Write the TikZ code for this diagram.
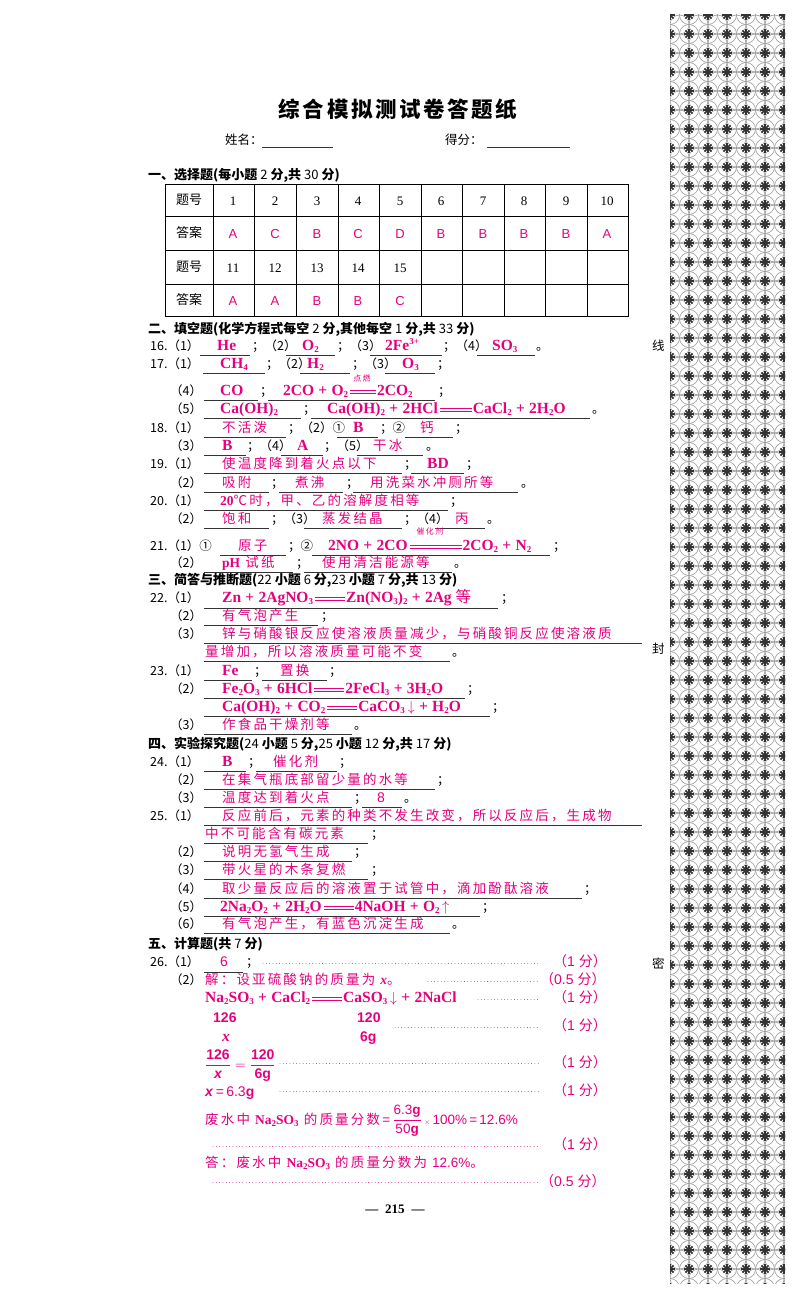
\documentclass[tikz,border=0pt]{standalone}
\usepackage{fontspec}
\usepackage{amsmath}
\setmainfont{Liberation Serif}
\setsansfont{Liberation Sans}
\newfontfamily\zh{Noto Sans CJK SC}
\newfontfamily\hw[LetterSpace=16]{Noto Sans CJK SC}
\newfontfamily\tz[LetterSpace=12]{Noto Sans CJK SC}
\definecolor{mag}{RGB}{228,0,127}
\newcounter{nd}
\newcommand\T[4][t]{\stepcounter{nd}\node[#1] (n\arabic{nd}) at (#2,#3) {#4};}
\newcommand\U[3]{\draw[ul] (#1,#3)--(#2,#3);}
\newcommand\dn[1]{\raisebox{-0.35ex}{\fontsize{9}{8}\selectfont #1}}
\newcommand\upx[1]{\raisebox{0.8ex}{\fontsize{9}{8}\selectfont #1}}
\newcommand\pl{\;+\;}
\newcommand\eqq[1][30pt]{\hspace{2pt}\rlap{\raisebox{0.55ex}{\rule{#1}{0.7pt}}}\raisebox{0.25ex}{\rule{#1}{0.7pt}}\hspace{1pt}}
\newcommand\fen[1]{{\zh （}\textsf{#1} {\zh 分）}}
\tikzset{
 t/.style={anchor=base west,inner sep=0,font=\zh\fontsize{12.5}{14}\selectfont},
 hd/.style={t,font=\zh\bfseries\fontsize{13}{15}\selectfont},
 a/.style={anchor=base west,inner sep=0,text=mag,font=\bfseries\fontsize{15.5}{17}\selectfont},
 h/.style={anchor=base west,inner sep=0,text=mag,font=\hw\fontsize{13.5}{15}\selectfont},
 s/.style={anchor=base west,inner sep=0,text=mag,font=\sffamily\fontsize{14}{16}\selectfont},
 small/.style={anchor=base,inner sep=0,text=mag,font=\hw\fontsize{8}{9}\selectfont},
 ul/.style={line width=0.6pt,black!80},
 dots/.style={mag,line width=0.7pt,dash pattern=on 0.01pt off 3.3pt,line cap=round},
 cell/.style={inner sep=0,font=\fontsize{13}{15}\selectfont},
 acell/.style={inner sep=0,text=mag,font=\sffamily\fontsize{13}{15}\selectfont},
}
\begin{document}
\begin{tikzpicture}[x=1pt,y=-1pt]
\useasboundingbox (0,0) rectangle (800,1305);
\fill[white] (0,0) rectangle (800,1305);
% side pattern
\begin{scope}
\clip (670,15) rectangle (785,1283);
\foreach \i in {0,...,6}{\foreach \j in {0,...,67}{
 \begin{scope}[shift={(670+\i*19,15+\j*19)}]
  \draw[black!40,line width=0.6pt] (0,0) circle (9.5);
  \draw[black!40,line width=0.6pt] (9.5,9.5) circle (9.5);
  \foreach \a in {0,45,90,135}{\draw[black!80,line width=1.6pt] (\a:5)--(\a+180:5);}
 \end{scope}}}
\end{scope}
\T[t]{652}{350}{线}
\T[t]{652}{653}{封}
\T[t]{652}{968}{密}
% title
\T[{anchor=base,inner sep=0,font=\tz\bfseries\fontsize{21.5}{24}\selectfont}]{398}{118}{综合模拟测试卷答题纸}
\T[t]{225}{145}{姓名：}\U{262}{333}{147}
\T[t]{445}{145}{得分：}\U{487}{570}{147}
\T[hd]{148}{180}{一、选择题(每小题 {\mdseries 2} 分,共 {\mdseries 30} 分)}
% table
\draw[line width=1pt] (165,185) rectangle (628,316);
\foreach \yy in {216,250,284}{\draw[line width=0.6pt] (165,\yy)--(628,\yy);}
\foreach \xx in {213,254,296,338,379,421,462,504,545,587}{\draw[line width=0.6pt] (\xx,185)--(\xx,316);}
\T[cell,font=\zh\fontsize{13}{15}\selectfont]{189}{200}{题号}
\T[cell,font=\zh\fontsize{13}{15}\selectfont]{189}{233}{答案}
\T[cell,font=\zh\fontsize{13}{15}\selectfont]{189}{267}{题号}
\T[cell,font=\zh\fontsize{13}{15}\selectfont]{189}{300}{答案}
\foreach \k/\xc/\an in {1/233/A,2/275/C,3/317/B,4/358/C,5/400/D,6/441/B,7/483/B,8/524/B,9/566/B,10/607/A}{
 \node[cell] (q\k) at (\xc,201) {\k}; \node[acell] (r\k) at (\xc,234) {\an};}
\foreach \k/\xc/\an in {11/233/A,12/275/A,13/317/B,14/358/B,15/400/C}{
 \node[cell] (q\k) at (\xc,268) {\k}; \node[acell] (r\k) at (\xc,301) {\an};}
% section 2
\T[hd]{148}{333}{二、填空题(化学方程式每空 {\mdseries 2} 分,其他每空 {\mdseries 1} 分,共 {\mdseries 33} 分)}
\T[t]{150}{350}{16.（1）}\T[a]{217}{350}{He}\U{200}{250}{355}
\T[t]{252}{350}{；（2）}\T[a]{302}{350}{O\dn{2}}\U{286}{335}{355}
\T[t]{337}{350}{；（3）}\T[a]{385}{350}{2Fe\upx{3+}}\U{370}{442}{355}
\T[t]{443}{350}{；（4）}\T[a]{492}{350}{SO\dn{3}}\U{477}{535}{355}\T[t]{536}{350}{。}
\T[t]{150}{368}{17.（1）}\T[a]{220}{368}{CH\dn{4}}\U{203}{265}{373}
\T[t]{266}{368}{；（2）}\T[a]{307}{368}{H\dn{2}}\U{300}{350}{373}
\T[t]{352}{368}{；（3）}\T[a]{402}{368}{O\dn{3}}\U{385}{435}{373}\T[t]{437}{368}{；}
\T[t]{170}{395}{（4）}\T[a]{220}{395}{CO}\U{204}{258}{400}\T[t]{260}{395}{；}
\T[a]{283}{395}{2CO\pl O\dn{2}\eqq[26pt]2CO\dn{2}}\T[small]{362}{381}{点燃}\U{268}{435}{400}\T[t]{438}{395}{；}
\T[t]{170}{413}{（5）}\T[a]{220}{413}{Ca(OH)\dn{2}}\U{204}{301}{418}\T[t]{303}{413}{；}
\T[a]{327}{413}{Ca(OH)\dn{2}\pl 2HCl\eqq[32pt]CaCl\dn{2}\pl 2H\dn{2}O}\U{311}{590}{418}\T[t]{592}{413}{。}
\T[t]{150}{432}{18.（1）}\T[h]{222}{432}{不活泼}\U{204}{286}{437}
\T[t]{288}{432}{；（2）①}\T[a]{353}{432}{B}\U{337}{378}{437}
\T[t]{380}{432}{；②}\T[h]{420}{432}{钙}\U{405}{453}{437}\T[t]{455}{432}{；}
\T[t]{170}{450}{（3）}\T[a]{222}{450}{B}\U{204}{246}{455}
\T[t]{247}{450}{；（4）}\T[a]{297}{450}{A}\U{281}{323}{455}
\T[t]{324}{450}{；（5）}\T[h]{373}{450}{干冰}\U{357}{423}{455}\T[t]{426}{450}{。}
\T[t]{150}{468}{19.（1）}\T[h]{222}{468}{使温度降到着火点以下}\U{204}{402}{473}
\T[t]{404}{468}{；}\T[a]{427}{468}{BD}\U{411}{464}{473}\T[t]{466}{468}{；}
\T[t]{170}{487}{（2）}\T[h]{222}{487}{吸附}\U{204}{269}{492}\T[t]{271}{487}{；}
\T[h]{295}{487}{煮沸}\U{279}{343}{492}\T[t]{346}{487}{；}
\T[h]{370}{487}{用洗菜水冲厕所等}\U{353}{518}{492}\T[t]{521}{487}{。}
\T[t]{150}{505}{20.（1）}\T[h]{220}{505}{{\bfseries\rmfamily 20}℃时，甲、乙的溶解度相等}\U{204}{448}{510}\T[t]{450}{505}{；}
\T[t]{170}{523}{（2）}\T[h]{222}{523}{饱和}\U{204}{269}{528}
\T[t]{271}{523}{；（3）}\T[h]{322}{523}{蒸发结晶}\U{304}{402}{528}
\T[t]{404}{523}{；（4）}\T[h]{455}{523}{丙}\U{435}{485}{528}\T[t]{487}{523}{。}
\T[t]{150}{550}{21.（1）①}\T[h]{238}{550}{原子}\U{220}{286}{555}\T[t]{288}{550}{；②}
\T[a]{328}{550}{2NO\pl 2CO\eqq[52pt]2CO\dn{2}\pl N\dn{2}}\T[small]{430}{534}{催化剂}\U{312}{550}{555}\T[t]{553}{550}{；}
\T[t]{170}{567}{（2）}\T[h]{222}{567}{{\bfseries\rmfamily pH} 试纸}\U{204}{293}{572}\T[t]{296}{567}{；}
\T[h]{322}{567}{使用清洁能源等}\U{304}{452}{572}\T[t]{454}{567}{。}
% section 3
\T[hd]{148}{584}{三、简答与推断题({\mdseries 22} 小题 {\mdseries 6} 分,{\mdseries 23} 小题 {\mdseries 7} 分,共 {\mdseries 13} 分)}
\T[t]{150}{602}{22.（1）}\T[a]{222}{602}{Zn\pl 2AgNO\dn{3}\eqq[30pt]Zn(NO\dn{3})\dn{2}\pl 2Ag {\hw\mdseries 等}}\U{204}{498}{608}\T[t]{501}{602}{；}
\T[t]{170}{620}{（2）}\T[h]{222}{620}{有气泡产生}\U{204}{318}{625}\T[t]{321}{620}{；}
\T[t]{170}{638}{（3）}\T[h]{222}{638}{锌与硝酸银反应使溶液质量减少，与硝酸铜反应使溶液质}\U{204}{642}{643}
\T[h]{205}{656}{量增加，所以溶液质量可能不变}\U{204}{450}{661}\T[t]{452}{656}{。}
\T[t]{150}{675}{23.（1）}\T[a]{222}{675}{Fe}\U{204}{252}{680}\T[t]{254}{675}{；}
\T[h]{280}{675}{置换}\U{262}{327}{680}\T[t]{329}{675}{；}
\T[t]{170}{693}{（2）}\T[a]{222}{693}{Fe\dn{2}O\dn{3}\pl 6HCl\eqq[30pt]2FeCl\dn{3}\pl 3H\dn{2}O}\U{204}{465}{698}\T[t]{467}{693}{；}
\T[a]{222}{711}{Ca(OH)\dn{2}\pl CO\dn{2}\eqq[30pt]CaCO\dn{3}\,$\downarrow$\pl H\dn{2}O}\U{204}{490}{716}\T[t]{492}{711}{；}
\T[t]{170}{729}{（3）}\T[h]{222}{729}{作食品干燥剂等}\U{204}{352}{734}\T[t]{354}{729}{。}
% section 4
\T[hd]{148}{748}{四、实验探究题({\mdseries 24} 小题 {\mdseries 5} 分,{\mdseries 25} 小题 {\mdseries 12} 分,共 {\mdseries 17} 分)}
\T[t]{150}{766}{24.（1）}\T[a]{222}{766}{B}\U{204}{246}{771}\T[t]{248}{766}{；}
\T[h]{273}{766}{催化剂}\U{256}{337}{771}\T[t]{339}{766}{；}
\T[t]{170}{784}{（2）}\T[h]{222}{784}{在集气瓶底部留少量的水等}\U{204}{435}{789}\T[t]{437}{784}{；}
\T[t]{170}{802}{（3）}\T[h]{222}{802}{温度达到着火点}\U{204}{352}{807}\T[t]{354}{802}{；}
\T[s]{377}{802}{8}\U{362}{402}{807}\T[t]{404}{802}{。}
\T[t]{150}{820}{25.（1）}\T[h]{222}{820}{反应前后，元素的种类不发生改变，所以反应后，生成物}\U{204}{642}{825}
\T[h]{205}{838}{中不可能含有碳元素}\U{204}{368}{843}\T[t]{371}{838}{；}
\T[t]{170}{856}{（2）}\T[h]{222}{856}{说明无氢气生成}\U{204}{352}{861}\T[t]{354}{856}{；}
\T[t]{170}{874}{（3）}\T[h]{222}{874}{带火星的木条复燃}\U{204}{368}{879}\T[t]{371}{874}{；}
\T[t]{170}{893}{（4）}\T[h]{222}{893}{取少量反应后的溶液置于试管中，滴加酚酞溶液}\U{204}{582}{898}\T[t]{584}{893}{；}
\T[t]{170}{911}{（5）}\T[a]{220}{911}{2Na\dn{2}O\dn{2}\pl 2H\dn{2}O\eqq[30pt]4NaOH\pl O\dn{2}\,$\uparrow$}\U{204}{480}{916}\T[t]{482}{911}{；}
\T[t]{170}{928}{（6）}\T[h]{222}{928}{有气泡产生，有蓝色沉淀生成}\U{204}{450}{933}\T[t]{452}{928}{。}
% section 5
\T[hd]{148}{948}{五、计算题(共 {\mdseries 7} 分)}
\T[t]{150}{966}{26.（1）}\T[s]{220}{966}{6}\U{204}{243}{972}\T[t]{246}{966}{；}
\draw[dots] (263,963)--(540,963);\T[s]{553}{966}{\fen{1}}
\T[t]{170}{984}{（2）}\T[h]{205}{984}{解：设亚硫酸钠的质量为 {\rmfamily\itshape\bfseries x}。}
\draw[dots] (428,981)--(540,981);\T[s]{540}{984}{\fen{0.5}}
\T[a]{205}{1002}{Na\dn{2}SO\dn{3}\pl CaCl\dn{2}\eqq[30pt]CaSO\dn{3}\,$\downarrow$\pl 2NaCl}
\draw[dots] (478,999)--(540,999);\T[s]{553}{1002}{\fen{1}}
\T[s]{213}{1022}{\bfseries 126}\T[s]{357}{1022}{\bfseries 120}
\T[a]{222}{1041}{\itshape x}\T[s]{360}{1041}{\bfseries 6g}
\draw[dots] (395,1027)--(540,1027);\T[s]{553}{1030}{\fen{1}}
\T[s]{205}{1069}{$\dfrac{\textsf{\bfseries 126}}{\textit{\bfseries x}}=\dfrac{\textsf{\bfseries 120}}{\textsf{\bfseries 6g}}$}
\draw[dots] (280,1063)--(540,1063);\T[s]{553}{1067}{\fen{1}}
\T[s]{205}{1096}{\textit{\bfseries x}\,=\,6.3\textbf{g}}
\draw[dots] (280,1091)--(540,1091);\T[s]{553}{1095}{\fen{1}}
\T[h]{205}{1124}{废水中 {\rmfamily\bfseries Na\dn{2}SO\dn{3}} 的质量分数\,{\sffamily =\,$\dfrac{\textsf{6.3\textbf{g}}}{\textsf{50\textbf{g}}}$\,{\scriptsize$\times$}\,100\%\,=\,12.6\%}}
\draw[dots] (213,1146)--(540,1146);\T[s]{553}{1149}{\fen{1}}
\T[h]{205}{1167}{答：废水中 {\rmfamily\bfseries Na\dn{2}SO\dn{3}} 的质量分数为 {\sffamily 12.6\%}。}
\draw[dots] (213,1182)--(540,1182);\T[s]{540}{1186}{\fen{0.5}}
\T[{anchor=base,inner sep=0,font=\bfseries\fontsize{13}{15}\selectfont}]{395}{1213}{— \;215\; —}
\end{tikzpicture}
\end{document}
